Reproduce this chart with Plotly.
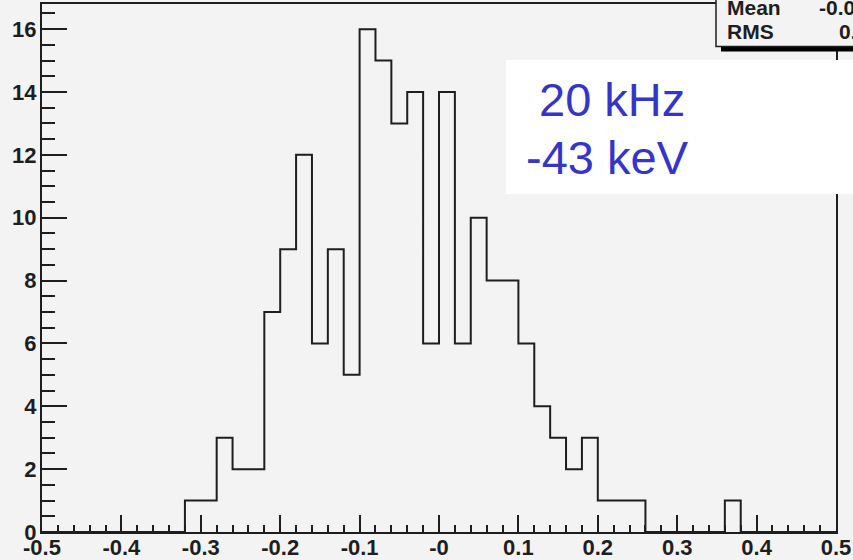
import numpy as np
import plotly.graph_objects as go

# Histogram: 50 bins of width 0.02 over [-0.5, 0.5]
x_min, x_max = -0.5, 0.5
n_bins = 50
counts = [0, 0, 0, 0, 0, 0, 0, 0, 0,
          1, 1, 3, 2, 2, 7, 9, 12, 6, 9, 5, 16, 15, 13, 14, 6,
          14, 6, 10, 8, 8, 6, 4, 3, 2, 3, 1, 1, 1,
          0, 0, 0, 0, 0, 1, 0, 0, 0, 0, 0, 0]

x_tickvals = [-0.5, -0.4, -0.3, -0.2, -0.1, 0.0, 0.1, 0.2, 0.3, 0.4, 0.5]
x_ticktext = ["-0.5", "-0.4", "-0.3", "-0.2", "-0.1", "-0", "0.1", "0.2", "0.3", "0.4", "0.5"]
y_tickvals = [0, 2, 4, 6, 8, 10, 12, 14, 16]

label_lines = ["20 kHz", "-43 keV"]

edges = np.linspace(x_min, x_max, n_bins + 1)
centers = 0.5 * (edges[:-1] + edges[1:])
w = np.array(counts, dtype=float)
n_entries = w.sum()
mean = (w * centers).sum() / n_entries
rms = np.sqrt((w * centers ** 2).sum() / n_entries - mean ** 2)

y_max = 1.05 * max(counts)

W, H = 853, 560
ML, MR, MT, MB = 42, 17, 4, 28
PW, PH = W - ML - MR, H - MT - MB


def px(xp):
    return (xp - ML) / PW


def py(yp):
    return (H - MB - yp) / PH


BG = "#f3f3f3"
INK = "#1e1e1e"
BLUE = "#3535c8"

fig = go.Figure()
fig.add_trace(go.Scatter(
    x=edges,
    y=list(counts) + [0],
    mode="lines",
    line=dict(shape="hv", color=INK, width=2),
    hoverinfo="skip",
    showlegend=False,
))

shapes = [
    # stats box shadow and box
    dict(type="rect", xref="paper", yref="paper",
         x0=px(721), x1=px(990), y0=py(51.5), y1=py(-40),
         fillcolor="#000000", line=dict(width=0), layer="above"),
    dict(type="rect", xref="paper", yref="paper",
         x0=px(716), x1=px(985), y0=py(46.5), y1=py(-45),
         fillcolor=BG, line=dict(color=INK, width=1.5), layer="above"),
    # white label box
    dict(type="rect", xref="paper", yref="paper",
         x0=px(506), x1=px(900), y0=py(194), y1=py(60),
         fillcolor="#ffffff", line=dict(width=0), layer="above"),
]

stat_font = dict(family="Liberation Sans, Arial, sans-serif", size=21, color=INK)
annotations = [
    dict(xref="paper", yref="paper", x=px(725), y=py(7), text="<b>Mean</b>",
         showarrow=False, xanchor="left", yanchor="middle", font=stat_font),
    dict(xref="paper", yref="paper", x=px(904), y=py(7), text="<b>%.4g</b>" % mean,
         showarrow=False, xanchor="right", yanchor="middle", font=stat_font),
    dict(xref="paper", yref="paper", x=px(725), y=py(32), text="<b>RMS</b>",
         showarrow=False, xanchor="left", yanchor="middle", font=stat_font),
    dict(xref="paper", yref="paper", x=px(904), y=py(32), text="<b>%.4g</b>" % rms,
         showarrow=False, xanchor="right", yanchor="middle", font=stat_font),
]
label_font = dict(family="Liberation Sans, Arial, sans-serif", size=47, color=BLUE)
for txt, xl, yc in zip(label_lines, [537, 524], [100, 157]):
    annotations.append(dict(xref="paper", yref="paper", x=px(xl), y=py(yc), text=txt,
                            showarrow=False, xanchor="left", yanchor="middle",
                            font=label_font))

tick_font = dict(family="Liberation Sans, Arial, sans-serif", size=22, color=INK, weight="bold")

fig.update_layout(
    width=W, height=H,
    margin=dict(l=ML, r=MR, t=MT, b=MB, pad=0),
    paper_bgcolor=BG, plot_bgcolor=BG,
    shapes=shapes, annotations=annotations,
    xaxis=dict(
        range=[x_min, x_max], showgrid=False, zeroline=False, automargin=False,
        showline=True, mirror=True, linecolor=INK, linewidth=2,
        ticks="inside", ticklen=17, tickwidth=2, tickcolor=INK,
        tickvals=x_tickvals, ticktext=x_ticktext,
        tickfont=tick_font, ticklabelstandoff=-5,
        minor=dict(dtick=0.02, tick0=0, ticks="inside", ticklen=7,
                   tickwidth=2, tickcolor=INK, showgrid=False),
    ),
    yaxis=dict(
        range=[0, y_max], showgrid=False, zeroline=False, automargin=False,
        showline=True, mirror=True, linecolor=INK, linewidth=2,
        ticks="inside", ticklen=25, tickwidth=2, tickcolor=INK,
        tickvals=y_tickvals, tickfont=tick_font, ticklabelstandoff=-1,
        minor=dict(dtick=0.5, tick0=0, ticks="inside", ticklen=13,
                   tickwidth=2, tickcolor=INK, showgrid=False),
    ),
)

fig.write_html("out.html", config={"displayModeBar": False})
